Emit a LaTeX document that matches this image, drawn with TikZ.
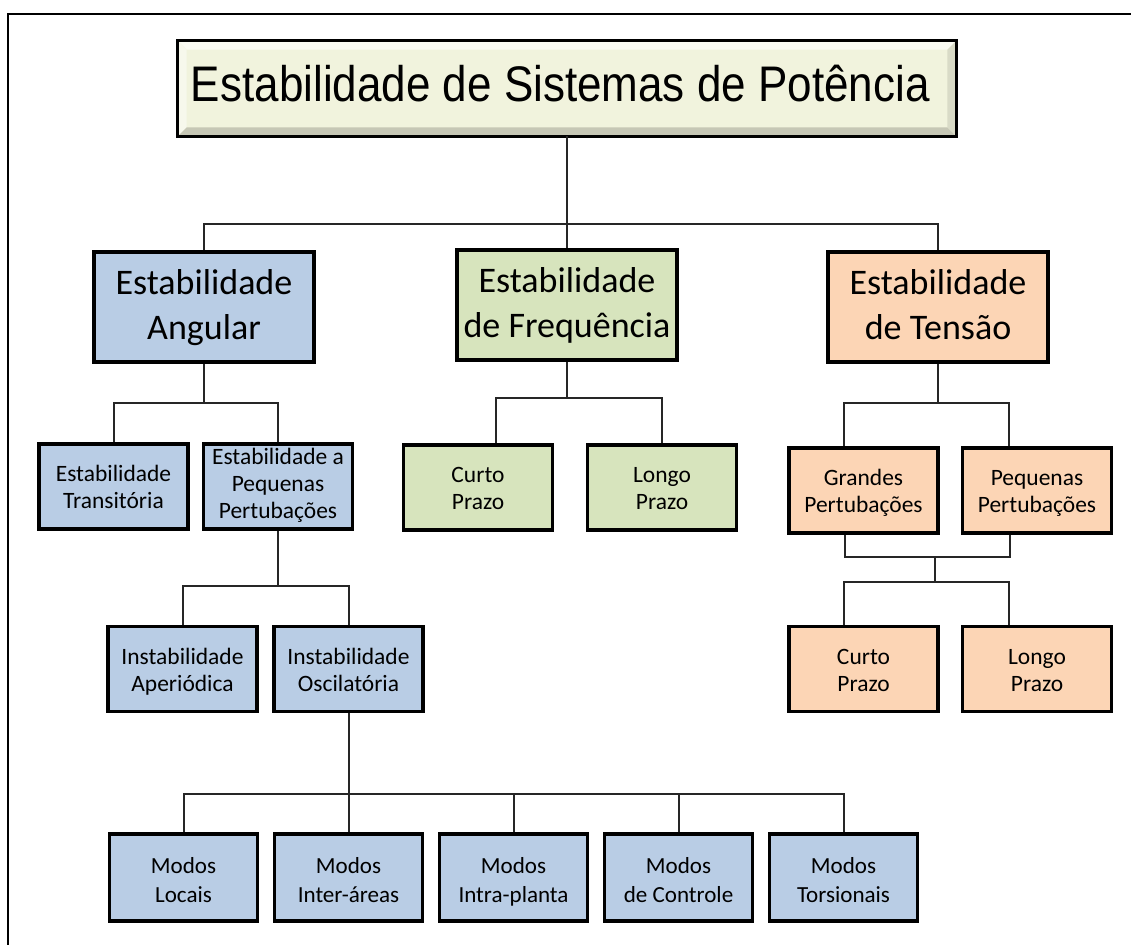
\documentclass[tikz,border=0pt]{standalone}
\usepackage{graphicx}
\usepackage{fontspec}
\setmainfont{Carlito}
\newfontfamily\arial{Liberation Sans}
\definecolor{azul}{RGB}{185,205,229}
\definecolor{verde}{RGB}{215,228,189}
\definecolor{laranja}{RGB}{252,213,181}
\definecolor{creme}{RGB}{241,243,221}
\begin{document}
\begin{tikzpicture}[x=0.75pt,y=-0.75pt,
  caixa/.style={draw,line width=2.4pt,align=center,inner sep=0pt,text depth=0pt},
  grande/.style={caixa,minimum width=165pt,minimum height=82.5pt,font=\fontsize{27pt}{33.75pt}\selectfont,text height=48.75pt},
  media/.style={caixa,minimum width=111.75pt,minimum height=63.75pt,font=\fontsize{17.6pt}{20.25pt}\selectfont,text height=33pt},
  modo/.style={caixa,fill=azul,minimum width=111pt,minimum height=65.25pt,font=\fontsize{17.3pt}{21.75pt}\selectfont,text height=36.75pt},
  liga/.style={line width=1.5pt,black!85}]
\useasboundingbox (0,0) rectangle (1131,945);
\clip (0,0) rectangle (1131,945);
\fill[white] (0,0) rectangle (1131,945);
\draw[line width=2pt] (1200,14) -- (8,14) -- (8,1000);
\node[fill=creme,minimum width=583.5pt,minimum height=71.25pt,inner sep=0pt] (tit) at (567,88.5)
   {\arial\fontsize{37.5pt}{40pt}\selectfont\scalebox{0.88}[1]{Estabilidade de Sistemas de Potência}\hspace*{10pt}\rule[-8pt]{0pt}{0pt}};
\fill[creme!35!white] (tit.north west) -- (tit.north east) -- ([shift={(-9,9)}]tit.north east) -- ([shift={(9,9)}]tit.north west) -- cycle;
\fill[creme!55!white] (tit.north west) -- ([shift={(9,9)}]tit.north west) -- ([shift={(9,-9)}]tit.south west) -- (tit.south west) -- cycle;
\fill[creme!82!black] (tit.south west) -- (tit.south east) -- ([shift={(-9,-9)}]tit.south east) -- ([shift={(9,-9)}]tit.south west) -- cycle;
\fill[creme!90!black] (tit.north east) -- (tit.south east) -- ([shift={(-9,-9)}]tit.south east) -- ([shift={(-9,9)}]tit.north east) -- cycle;
\draw[line width=2.2pt] (tit.north west) rectangle (tit.south east);
\node[grande,fill=azul] (ang) at (204,307) {Estabilidade\\Angular};
\node[grande,fill=verde] (frq) at (567,305) {Estabilidade\\de Frequência};
\node[grande,fill=laranja] (tns) at (938,307) {Estabilidade\\de Tensão};
\node[media,fill=azul] (trn) at (113.5,486.5) {Estabilidade\\Transitória};
\node[media,fill=azul,text height=48.5pt] (peq) at (278,486.5) {Estabilidade a\\Pequenas\\Pertubações};
\node[media,fill=azul] (apr) at (182.5,669) {Instabilidade\\Aperiódica};
\node[media,fill=azul] (osc) at (348.5,669) {Instabilidade\\Oscilatória};
\node[media,fill=verde] (crt1) at (478,487.5) {Curto\\Prazo};
\node[media,fill=verde] (lng1) at (662,487.5) {Longo\\Prazo};
\node[media,fill=laranja] (grd) at (863.5,490.5) {Grandes\\Pertubações};
\node[media,fill=laranja] (pqn) at (1037,490.5) {Pequenas\\Pertubações};
\node[media,fill=laranja] (crt2) at (863.5,669) {Curto\\Prazo};
\node[media,fill=laranja] (lng2) at (1037,669) {Longo\\Prazo};
\node[modo] (m0) at (183.5,877.5) {Modos\\Locais};
\node[modo] (m1) at (348.5,877.5) {Modos\\Inter-áreas};
\node[modo] (m2) at (513.5,877.5) {Modos\\Intra-planta};
\node[modo] (m3) at (678.5,877.5) {Modos\\de Controle};
\node[modo] (m4) at (843.5,877.5) {Modos\\Torsionais};
\coordinate (j0) at (567,224);
\coordinate (j1) at (204,403);
\coordinate (j2) at (278,586);
\coordinate (j3) at (348.5,794);
\coordinate (j4) at (567,398);
\coordinate (j5) at (938,403);
\coordinate (j6) at (935,557);
\coordinate (j7) at (935,582);
\draw[liga] (tit.south) -- (j0) -| (ang.north);
\draw[liga] (j0) -| (tns.north);
\draw[liga] (j0) -- (frq.north);
\draw[liga] (ang.south) -- (j1) -| (trn.north);
\draw[liga] (j1) -| (peq.north);
\draw[liga] (peq.south) -- (j2) -| (apr.north);
\draw[liga] (j2) -| (osc.north);
\draw[liga] (osc.south) -- (j3) -| (m0.north);
\draw[liga] (j3) -| (m4.north);
\draw[liga] (j3) -- (m1.north);
\draw[liga] (m2.north) -- (m2.north |- j3);
\draw[liga] (m3.north) -- (m3.north |- j3);
\draw[liga] (frq.south) -- (j4) -| ([xshift=13.5pt]crt1.north);
\draw[liga] (j4) -| (lng1.north);
\draw[liga] (tns.south) -- (j5) -| ([xshift=-15pt]grd.north);
\draw[liga] (j5) -| ([xshift=-21pt]pqn.north);
\draw[liga] ([xshift=-14pt]grd.south) |- (j6);
\draw[liga] ([xshift=-20pt]pqn.south) |- (j6);
\draw[liga] (j6) -- (j7) -| ([xshift=-15pt]crt2.north);
\draw[liga] (j7) -| ([xshift=-21pt]lng2.north);
\end{tikzpicture}
\end{document}
